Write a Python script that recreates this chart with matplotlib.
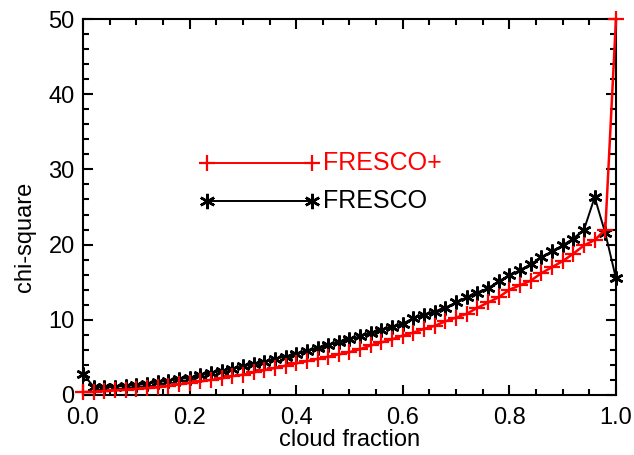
import numpy as np
import matplotlib
matplotlib.use('Agg')
import matplotlib.pyplot as plt
import matplotlib.transforms as mtransforms
from matplotlib.ticker import MultipleLocator

# === Data ===
cloud_fraction = np.round(np.arange(0, 51) * 0.02, 2)

chi_fresco = [2.8, 1.1, 1.0, 1.1, 1.2, 1.3, 1.5, 1.7, 1.9, 2.1,
              2.3, 2.6, 2.9, 3.2, 3.5, 3.8, 4.1, 4.4, 4.8, 5.1,
              5.5, 5.9, 6.3, 6.7, 7.0, 7.4, 7.8, 8.3, 8.7, 9.1,
              9.5, 10.2, 10.7, 11.1, 11.6, 12.3, 13.0, 13.6, 14.2, 15.1,
              15.9, 16.6, 17.4, 18.3, 19.1, 19.9, 20.8, 22.0, 26.3, 21.5,
              15.5]

chi_fresco_plus = [0.4, 0.4, 0.5, 0.6, 0.7, 0.8, 0.9, 1.0, 1.2, 1.4,
                   1.6, 1.8, 2.0, 2.2, 2.5, 2.7, 3.0, 3.3, 3.6, 3.9,
                   4.2, 4.5, 4.8, 5.1, 5.4, 5.7, 6.1, 6.6, 7.0, 7.4,
                   7.9, 8.3, 8.8, 9.2, 9.8, 10.3, 10.8, 11.6, 12.3, 13.0,
                   14.0, 14.6, 15.2, 16.2, 17.0, 17.8, 18.8, 19.9, 20.6, 22.0,
                   50.0]

legend_labels = ['FRESCO+', 'FRESCO']
legend_x = [0.233, 0.429]
legend_y = [30.8, 25.8]

plt.rcParams['font.family'] = ['Liberation Sans', 'DejaVu Sans']

asterisk = (6, 2, 0)

fig = plt.figure(figsize=(6.34, 4.55), dpi=100)
ax = fig.add_axes([0.1309, 0.1319, 0.8407, 0.8263])

ax.plot(cloud_fraction, chi_fresco, color='black', lw=1.4,
        marker=asterisk, ms=10, mew=1.8, clip_on=False, zorder=3)
ax.plot(cloud_fraction, chi_fresco_plus, color='red', lw=1.8,
        marker='+', ms=11, mew=1.6, clip_on=False, zorder=4)

# === In-plot legend, IDL style ===
ax.plot(legend_x, [legend_y[0]] * 2, color='red', lw=1.4, marker='+', ms=12, mew=1.6)
ax.plot(legend_x, [legend_y[1]] * 2, color='black', lw=1.4, marker=asterisk, ms=11, mew=1.8)
ax.text(0.451, legend_y[0], legend_labels[0], color='red', fontsize=18, va='center')
ax.text(0.451, legend_y[1], legend_labels[1], color='black', fontsize=18, va='center')

ax.set_xlim(0, 1)
ax.set_ylim(0, 50)
ax.xaxis.set_major_locator(MultipleLocator(0.2))
ax.xaxis.set_minor_locator(MultipleLocator(0.05))
ax.yaxis.set_major_locator(MultipleLocator(10))
ax.yaxis.set_minor_locator(MultipleLocator(2))
ax.xaxis.set_major_formatter(plt.FuncFormatter(lambda v, p: f'{v:.1f}'))

ax.tick_params(which='both', direction='in', top=True, right=True, width=1.5,
               labelsize=17)
ax.tick_params(axis='x', which='major', pad=9)
ax.tick_params(axis='y', which='major', pad=6)
ax.tick_params(which='major', length=7.5)
ax.tick_params(which='minor', length=4)
for sp in ax.spines.values():
    sp.set_linewidth(1.5)

# lift the "0" label a little, as in the original
fig.canvas.draw()
ylabels = ax.get_yticklabels()
shift = mtransforms.ScaledTranslation(0, 6 / 100, fig.dpi_scale_trans)
ylabels[0].set_transform(ylabels[0].get_transform() + shift)

ax.set_xlabel('cloud fraction', fontsize=17, labelpad=0)
ax.set_ylabel('chi-square', fontsize=17)
ax.yaxis.set_label_coords(-0.088, 0.42)

fig.savefig('out.png', dpi=100)
